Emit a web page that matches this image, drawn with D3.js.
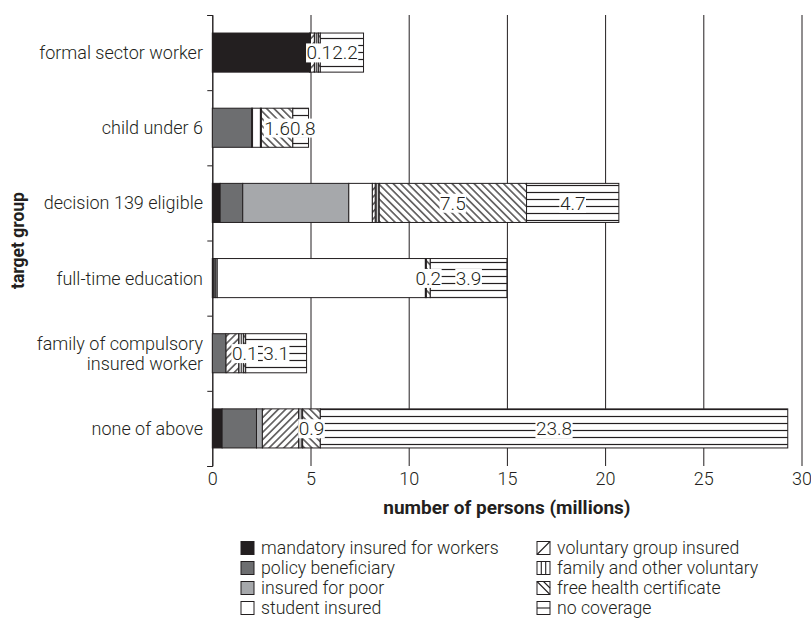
<!DOCTYPE html>
<html>
   <head>
      <title>
         Health insurance coverage by target group
      </title>
      <style media="screen">
         body {
         margin: 0;
         background: white;
         }
         text {
         font-family: Roboto, "Liberation Sans Narrow", sans-serif;
         font-weight: 300;
         fill: #231f20;
         }
         .title {
         font-weight: bold;
         }
      </style>
      <script type="text/javascript" src="https://d3js.org/d3.v7.min.js"></script>
   </head>
   <body>
      <script>
         // categories on the y axis (top to bottom), "\n" marks a line break
         var categories = ["formal sector worker", "child under 6", "decision 139 eligible",
                           "full-time education", "family of compulsory\ninsured worker", "none of above"];

         // series values in millions, same order as categories
         var mandatory = [4.95, 0, 0.4, 0.05, 0, 0.5];
         var policy = [0.05, 2.0, 1.15, 0.1, 0.7, 1.75];
         var poor = [0, 0.05, 5.4, 0.1, 0, 0.3];
         var student = [0, 0.4, 1.2, 10.6, 0, 0];
         var voluntary = [0.2, 0.05, 0.15, 0, 0.65, 1.85];
         var family = [0.2, 0, 0.2, 0.05, 0.25, 0.2];
         var freeCert = [0.1, 1.6, 7.5, 0.2, 0.1, 0.9];
         var noCoverage = [2.2, 0.8, 4.7, 3.9, 3.1, 23.8];

         var seriesNames = ["mandatory insured for workers", "policy beneficiary", "insured for poor",
                            "student insured", "voluntary group insured", "family and other voluntary",
                            "free health certificate", "no coverage"];
         var seriesValues = [mandatory, policy, poor, student, voluntary, family, freeCert, noCoverage];

         // only these series get value labels
         var labelled = ["free health certificate", "no coverage"];

         // x axis ticks
         var xTicks = [0, 5, 10, 15, 20, 25, 30];

         //width and height for svg and plot area
         var w = 811;
         var h = 627;
         var plotLeft = 212.3;
         var plotRight = 801.5;
         var plotTop = 15;
         var plotBottom = 466;
         var ink = "#231f20";

         // build rows for the stack
         var table = categories.map(function(c, i) {
           var row = {category: c};
           seriesNames.forEach(function(s, j) { row[s] = seriesValues[j][i]; });
           return row;
         });

         var stacked = d3.stack().keys(seriesNames)(table);

         var svg = d3.select("body")
                     .append("svg")
                     .attr("width", w)
                     .attr("height", h);

         // fill patterns for hatched series
         var defs = svg.append("defs");

         function linePattern(id, size, angle, horizontal) {
           var p = defs.append("pattern")
              .attr("id", id)
              .attr("patternUnits", "userSpaceOnUse")
              .attr("width", size)
              .attr("height", size)
              .attr("patternTransform", "rotate(" + angle + ")");
           p.append("rect").attr("width", size).attr("height", size).attr("fill", "white");
           if (horizontal) {
             p.append("line").attr("x1", 0).attr("x2", size).attr("y1", size / 2).attr("y2", size / 2)
              .attr("stroke", ink).attr("stroke-width", 1.2);
           } else {
             p.append("line").attr("x1", size / 2).attr("x2", size / 2).attr("y1", 0).attr("y2", size)
              .attr("stroke", ink).attr("stroke-width", 1.2);
           }
         }
         linePattern("hatch-fwd", 5.2, 45, false);
         linePattern("hatch-vert", 2.5, 0, false);
         linePattern("hatch-back", 5.2, -45, false);
         linePattern("hatch-horiz", 7, 0, true);

         var fills = {
           "mandatory insured for workers": ink,
           "policy beneficiary": "#6d6e70",
           "insured for poor": "#a6a8ab",
           "student insured": "white",
           "voluntary group insured": "url(#hatch-fwd)",
           "family and other voluntary": "url(#hatch-vert)",
           "free health certificate": "url(#hatch-back)",
           "no coverage": "url(#hatch-horiz)"
         };

         // scales
         var x = d3.scaleLinear()
                   .domain([0, 30])
                   .range([plotLeft, plotRight]);

         var y = d3.scaleBand()
                   .domain(categories)
                   .range([plotTop, plotBottom])
                   .paddingInner(0.48)
                   .paddingOuter(0.24);

         // gridlines and x tick labels
         var xAxis = svg.append("g")
            .attr("transform", "translate(0," + plotBottom + ")")
            .call(d3.axisBottom(x)
                     .tickValues(xTicks)
                     .tickSize(-(plotBottom - plotTop))
                     .tickPadding(6));
         xAxis.attr("font-family", null).attr("font-size", null);
         xAxis.select(".domain").remove();
         xAxis.selectAll("line").attr("stroke", ink);
         xAxis.selectAll("text")
            .style("font-size", "18px")
            .attr("fill", ink);

         // y axis with ticks between the groups
         var yLine = d3.scaleLinear().domain([0, categories.length]).range([plotTop, plotBottom]);
         var yAxis = svg.append("g")
            .attr("transform", "translate(" + plotLeft + ",0)")
            .call(d3.axisLeft(yLine)
                     .ticks(categories.length)
                     .tickFormat("")
                     .tickSize(5));
         yAxis.selectAll("line, path").attr("stroke", ink);

         // stacked bars
         var layers = svg.append("g")
            .selectAll("g")
            .data(stacked)
            .enter()
            .append("g")
            .attr("fill", function(d) { return fills[d.key]; });

         layers.selectAll("rect")
            .data(function(d) { return d.filter(function(s) { return s[1] - s[0] > 0; }); })
            .enter()
            .append("rect")
            .attr("x", function(d) { return x(d[0]); })
            .attr("y", function(d) { return y(d.data.category); })
            .attr("width", function(d) { return x(d[1]) - x(d[0]); })
            .attr("height", y.bandwidth())
            .attr("stroke", ink)
            .attr("stroke-width", 1);

         // value labels with white boxes, nudged right only when they would overlap
         var labelLayer = svg.append("g");
         var lastRight = {};
         stacked.filter(function(s) { return labelled.indexOf(s.key) >= 0; })
            .forEach(function(s) {
              s.forEach(function(d) {
                var g = labelLayer.append("g");
                var cx = x((d[0] + d[1]) / 2);
                var t = g.append("text")
                   .attr("x", cx)
                   .attr("y", y(d.data.category) + y.bandwidth() / 2)
                   .attr("dy", "0.36em")
                   .attr("text-anchor", "middle")
                   .style("font-size", "19px")
                   .text(d3.format(".1f")(d[1] - d[0]));
                var b = t.node().getBBox();
                var prev = lastRight[d.data.category];
                if (prev !== undefined && b.x < prev - 1) {
                  t.attr("x", cx + (prev - b.x));
                  b = t.node().getBBox();
                }
                lastRight[d.data.category] = b.x + b.width;
                g.insert("rect", "text")
                   .attr("x", b.x - 0.5)
                   .attr("y", b.y + 2)
                   .attr("width", b.width + 1)
                   .attr("height", b.height - 4)
                   .attr("fill", "white");
              });
            });

         // category labels
         categories.forEach(function(c) {
           var lines = c.split("\n");
           var cy = y(c) + y.bandwidth() / 2;
           var t = svg.append("text")
              .attr("text-anchor", "end")
              .style("font-size", "18px");
           lines.forEach(function(l, i) {
             t.append("tspan")
              .attr("x", 203)
              .attr("y", cy + (i - (lines.length - 1) / 2) * 20)
              .attr("dy", "0.36em")
              .text(l);
           });
         });

         // axis titles
         svg.append("text")
            .attr("class", "title")
            .attr("x", (plotLeft + plotRight) / 2)
            .attr("y", 514)
            .attr("text-anchor", "middle")
            .style("font-size", "19px")
            .text("number of persons (millions)");

         svg.append("text")
            .attr("class", "title")
            .attr("transform", "rotate(-90)")
            .attr("x", -(plotTop + plotBottom) / 2)
            .attr("y", 18)
            .attr("dy", "0.36em")
            .attr("text-anchor", "middle")
            .style("font-size", "17.5px")
            .text("target group");

         // simple line glyphs drawn over the hatched legend boxes
         var iconLines = {
           "voluntary group insured": [[0, 13, 13, 0]],
           "family and other voluntary": [[4.3, 0, 4.3, 13], [8.7, 0, 8.7, 13]],
           "free health certificate": [[0, 0, 13, 13], [6.5, 0, 13, 6.5]],
           "no coverage": [[0, 6.5, 13, 6.5]]
         };

         // legend in two columns
         var legend = svg.append("g");
         seriesNames.forEach(function(s, i) {
           var col = Math.floor(i / 4);
           var row = i % 4;
           var lx = col === 0 ? 241 : 537;
           var ly = 548 + row * 20;
           var hatched = iconLines[s] !== undefined;
           legend.append("rect")
              .attr("x", lx)
              .attr("y", ly - 6.5)
              .attr("width", 13)
              .attr("height", 13)
              .attr("fill", hatched ? "white" : fills[s])
              .attr("stroke", ink)
              .attr("stroke-width", 1);
           if (hatched) {
             iconLines[s].forEach(function(l) {
               legend.append("line")
                  .attr("x1", lx + l[0]).attr("y1", ly - 6.5 + l[1])
                  .attr("x2", lx + l[2]).attr("y2", ly - 6.5 + l[3])
                  .attr("stroke", ink)
                  .attr("stroke-width", 1.1);
             });
           }
           legend.append("text")
              .attr("x", lx + 20)
              .attr("y", ly)
              .attr("dy", "0.36em")
              .style("font-size", "17.7px")
              .text(s);
         });
      </script>
   </body>
</html>
